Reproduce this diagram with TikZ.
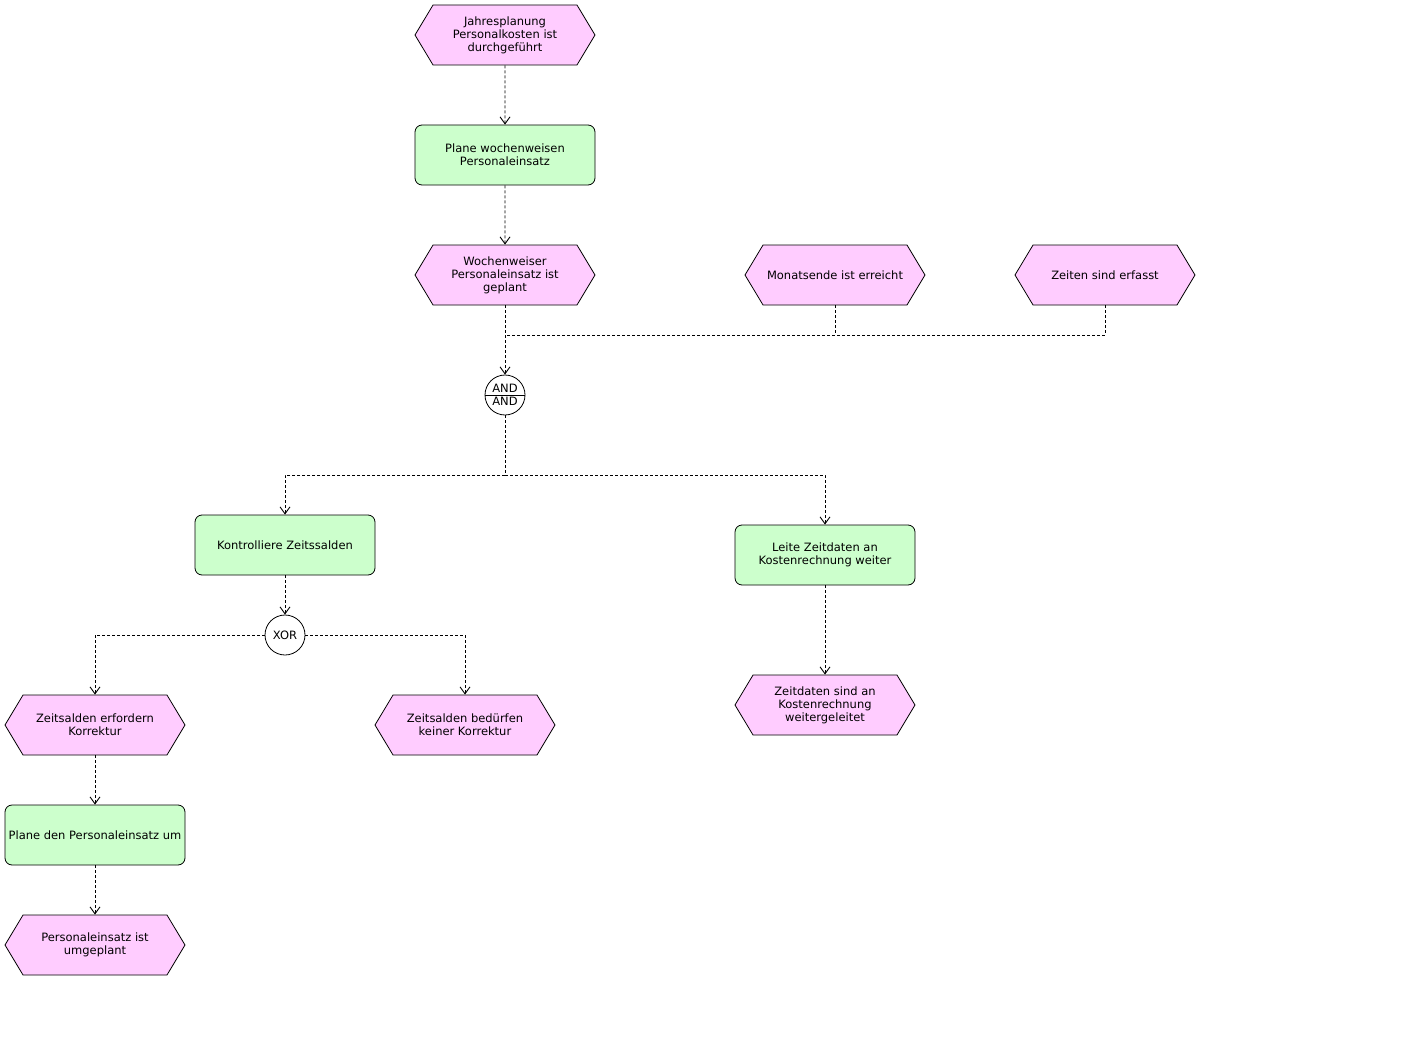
\documentclass[tikz,border=0pt]{standalone}
\usepackage{fontspec}
\setmainfont{DejaVu Sans}
\usetikzlibrary{shapes.symbols,shapes.multipart,arrows.meta}
\definecolor{evpink}{RGB}{255,204,255}
\definecolor{fngreen}{RGB}{204,255,204}
\begin{document}
\begin{tikzpicture}[x=1pt,y=-1pt,
 font=\fontsize{11.5}{13}\selectfont,
 evt/.style={signal, signal to=west and east, signal pointer angle=118, draw=black, line width=0.8pt, fill=evpink, minimum width=180pt, minimum height=60pt, inner sep=0pt, align=center},
 fn/.style={rectangle, rounded corners=7pt, draw=black, line width=0.8pt, fill=fngreen, minimum width=180pt, minimum height=60pt, inner sep=0pt, align=center},
 gate/.style={circle, draw=black, line width=0.8pt, fill=white, minimum size=40pt, inner sep=0pt},
 andgate/.style={circle split, draw=black, line width=0.8pt, fill=white, minimum size=40pt, inner xsep=0pt, inner ysep=2.2pt},
 flow/.style={draw=black, line width=0.9pt, dash pattern=on 3pt off 2pt},
 arr/.style={flow, -{Straight Barb[length=7pt,width=10pt]}}
]
\useasboundingbox (0,0) rectangle (1406,1046);
\node[evt] (e1) at (505,35) {Jahresplanung\\Personalkosten ist\\durchgeführt};
\node[fn] (f1) at (505,155) {Plane wochenweisen\\Personaleinsatz};
\node[evt] (e2) at (505,275) {Wochenweiser\\Personaleinsatz ist\\geplant};
\node[evt] (e3) at (835,275) {Monatsende ist erreicht};
\node[evt] (e4) at (1105,275) {Zeiten sind erfasst};
\node[andgate] (and) at (505,395) {AND\nodepart{lower}AND};
\node[fn] (f2) at (285,545) {Kontrolliere Zeitssalden};
\node[fn] (f3) at (825,555) {Leite Zeitdaten an\\Kostenrechnung weiter};
\node[gate] (xor) at (285,635) {XOR};
\node[evt] (e5) at (95,725) {Zeitsalden erfordern\\Korrektur};
\node[evt] (e6) at (465,725) {Zeitsalden bedürfen\\keiner Korrektur};
\node[evt] (e7) at (825,705) {Zeitdaten sind an\\Kostenrechnung\\weitergeleitet};
\node[fn] (f4) at (95,835) {Plane den Personaleinsatz um};
\node[evt] (e8) at (95,945) {Personaleinsatz ist\\umgeplant};
\coordinate (j) at (505,335);
\coordinate (s) at (505,475);
\draw[arr] (e1) -- (f1);
\draw[arr] (f1) -- (e2);
\draw[arr] (e2.south) -- (and.north);
\draw[flow] (e4.south) |- (j);
\draw[flow] (e3.south) -- (e3.south |- j);
\draw[flow] (and.south) -- (s);
\draw[arr] (s) -| (f2.north);
\draw[arr] (s) -| (f3.north);
\draw[arr] (f2.south) -- (xor.north);
\draw[arr] (xor.west) -| (e5.north);
\draw[arr] (xor.east) -| (e6.north);
\draw[arr] (f3.south) -- (e7.north);
\draw[arr] (e5.south) -- (f4.north);
\draw[arr] (f4.south) -- (e8.north);
\end{tikzpicture}
\end{document}
